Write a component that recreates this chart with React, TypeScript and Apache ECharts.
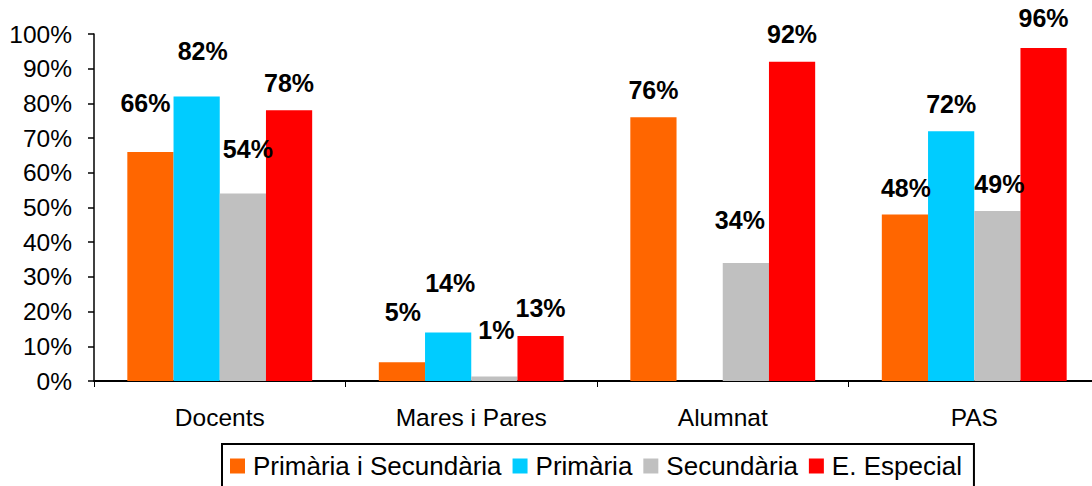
import React, { useEffect, useRef } from "react";
import * as echarts from "echarts";

const categories = ["Docents", "Mares i Pares", "Alumnat", "PAS"];
const seriesNames = ["Primària i Secundària", "Primària", "Secundària", "E. Especial"];
const primariaSecundaria = [66, 5.4, 76, 48];
const primaria = [82, 14, null, 72];
const secundaria = [54, 1.3, 34, 49];
const eEspecial = [78, 13, 92, 96];
const colors = ["#FF6600", "#00CCFF", "#C0C0C0", "#FF0000"];
const yTicks = [0, 10, 20, 30, 40, 50, 60, 70, 80, 90, 100];

// manual label nudges (as in the original, per series, per category)
const labelDx = [
  [-5, 1, 0, 1],
  [6, 2, 0, 0],
  [5, 2, -6, 2],
  [0, 0, 0, 0],
];
const labelDy = [
  [-21, -23, 0, 1],
  [-18, -22, 0, 0],
  [-17, -19, -16, 1],
  [0, 0, 0, -2],
];

const FONT = "'Liberation Sans', Arial, Helvetica, sans-serif";

export default function App() {
  const ref = useRef<HTMLDivElement>(null);
  useEffect(() => {
    if (!ref.current) return;
    const chart = echarts.init(ref.current, null, { renderer: "svg" });
    const allData = [primariaSecundaria, primaria, secundaria, eEspecial];
    const series = allData.map((arr, si) => ({
      name: seriesNames[si],
      type: "bar",
      barGap: "0%",
      barCategoryGap: "26.5%",
      itemStyle: { color: colors[si] },
      data: arr.map((v, ci) =>
        v === null
          ? null
          : {
              value: v,
              label: { offset: [labelDx[si][ci], labelDy[si][ci]] },
            }
      ),
      label: {
        show: true,
        position: "top",
        distance: 15,
        color: "#000",
        fontFamily: FONT,
        fontWeight: "bold",
        fontSize: 25,
        formatter: (p: any) => Math.round(p.value) + "%",
      },
    }));
    chart.setOption({
      animation: false,
      backgroundColor: "#fff",
      textStyle: { fontFamily: FONT },
      grid: { left: 94, right: 0, top: 34, bottom: 105, containLabel: false },
      legend: {
        left: 222,
        top: 444,
        orient: "horizontal",
        icon: "rect",
        itemWidth: 15,
        itemHeight: 15,
        itemGap: 11,
        borderColor: "#000",
        borderWidth: 2,
        padding: [9, 12, 9, 8],
        textStyle: { fontSize: 26, color: "#000", fontFamily: FONT, padding: [0, 0, 0, 3] },
        data: seriesNames,
      },
      xAxis: {
        type: "category",
        data: categories,
        axisLine: { lineStyle: { color: "#000", width: 2 } },
        axisTick: { show: true, length: 6, lineStyle: { color: "#000", width: 1 } },
        axisLabel: { color: "#000", fontSize: 24.5, fontFamily: FONT, margin: 24 },
      },
      yAxis: {
        type: "value",
        min: yTicks[0],
        max: yTicks[yTicks.length - 1],
        interval: 10,
        splitLine: { show: false },
        axisLine: { show: true, lineStyle: { color: "#000", width: 1.5 } },
        axisTick: { show: true, length: 6, lineStyle: { color: "#000", width: 1.5 } },
        axisLabel: { color: "#000", fontSize: 24.5, fontFamily: FONT, margin: 22, formatter: "{value}%" },
      },
      series,
    });
    return () => chart.dispose();
  }, []);
  return (
    <div
      style={{ position: "absolute", left: 0, top: 0, width: 1092, height: 486, overflow: "hidden", background: "#fff" }}
    >
      <div ref={ref} style={{ position: "absolute", left: 0, top: 0, width: 1100, height: 486 }} />
    </div>
  );
}
